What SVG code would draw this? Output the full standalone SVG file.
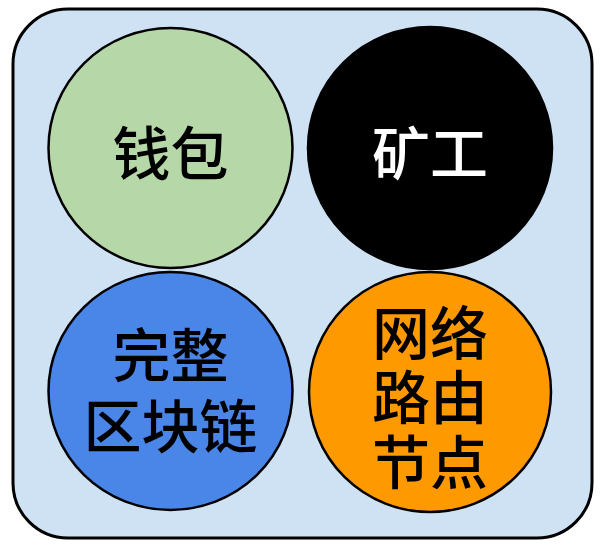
<svg xmlns="http://www.w3.org/2000/svg" width="605" height="550" viewBox="0 0 605 550">
<style>
.node{stroke:#000;stroke-width:2.5}
.t{font-family:"Noto Sans CJK SC","Liberation Sans",sans-serif;font-size:58px;font-weight:500;text-anchor:middle}
</style>
<rect width="605" height="550" fill="#fff"/>
<g id="container"><rect x="13" y="9" width="579" height="529" rx="55" ry="55" fill="#cfe2f3" stroke="#000" stroke-width="3"/></g>
<g id="wallet"><ellipse class="node" cx="170.5" cy="148" rx="122" ry="120" fill="#b6d7a8"/><text class="t" x="170.5" y="175">钱包</text></g>
<g id="miner"><ellipse class="node" cx="430" cy="148" rx="122" ry="121" fill="#000"/><text class="t" x="430" y="175" fill="#fff">矿工</text></g>
<g id="blockchain"><ellipse class="node" cx="170.5" cy="391" rx="122" ry="119" fill="#4a86e8"/><text class="t"><tspan x="170.5" y="377">完整</tspan><tspan x="170.5" y="448">区块链</tspan></text></g>
<g id="router"><ellipse class="node" cx="430" cy="392" rx="121" ry="120" fill="#ff9900"/><text class="t"><tspan x="430" y="355">网络</tspan><tspan x="430" y="419">路由</tspan><tspan x="430" y="484">节点</tspan></text></g>
<g id="connectors"></g>
</svg>
